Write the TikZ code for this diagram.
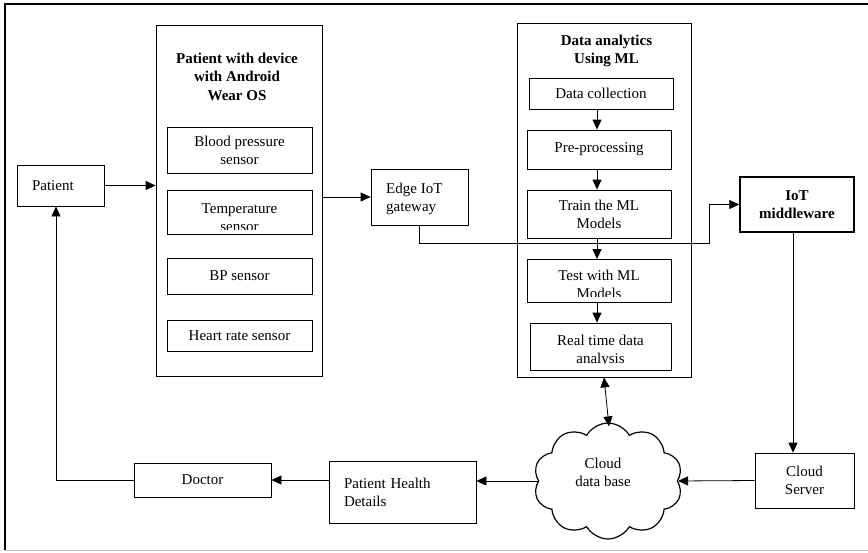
\documentclass[tikz,border=0pt]{standalone}
\usepackage{fontspec}
\setmainfont{Liberation Serif}
\usetikzlibrary{arrows.meta,shapes.symbols}
\begin{document}
\begin{tikzpicture}[x=1pt,y=-1pt,
  every node/.style={font=\fontsize{15}{18}\selectfont, inner sep=0pt},
  box/.style={draw, line width=0.8pt, rectangle},
  titletext/.style={font=\fontsize{15}{18.5}\selectfont\bfseries, align=center},
  arr/.style={line width=0.8pt, -{Triangle[length=10pt,width=9pt]}},
  dblarr/.style={line width=0.8pt, {Triangle[length=10pt,width=9pt]}-{Triangle[length=10pt,width=9pt]}},
  ln/.style={line width=0.8pt}]
\useasboundingbox (0,0) rectangle (868,552);
% outer frame
\draw[line width=2pt] (5,550) -- (5,4) -- (868,4);
\draw[line width=1pt, black!25] (5,550) -- (868,550);

% left part
\node[box, minimum width=87pt, minimum height=41pt, text width=57pt, align=left] (patient) at (60.5,185.5) {Patient};
\node[box, minimum width=166pt, minimum height=351pt] (device) at (239,200.5) {};
\node[titletext] (devtitle) at (237,76.5) {Patient with device\\with Android\\Wear OS};
\node[box, minimum width=145pt, minimum height=46pt, align=center] (bps) at (239.5,150) {Blood pressure\\sensor};
\node[box, minimum width=145pt, minimum height=44pt] (temp) at (239.5,212) {};
\begin{scope}
  \clip ([yshift=4.5pt]temp.south west) rectangle (temp.north east);
  \node[align=center] (temptxt) at (239.5,218) {Temperature\\sensor};
\end{scope}
\node[box, minimum width=145pt, minimum height=36pt] (bp) at (239.5,276) {BP sensor};
\node[box, minimum width=145pt, minimum height=31pt] (hr) at (239.5,335.5) {Heart rate sensor};

\node[box, minimum width=97pt, minimum height=56pt] (edge) at (419.5,197) {};
\node[align=left, anchor=west] (edgetxt) at (386,199) {Edge IoT\\gateway};

% data analytics
\node[box, minimum width=174pt, minimum height=354pt] (da) at (604,200) {};
\node[titletext] (datitle) at (606.5,51) {Data analytics\\Using ML};
\node[box, minimum width=144pt, minimum height=31pt] (dc) at (601,93.5) {Data collection};
\node[box, minimum width=144pt, minimum height=39pt] (pp) at (599,149.5) {Pre-processing};
\node[box, minimum width=144pt, minimum height=48pt, align=center] (train) at (599,214) {Train the ML\\Models};
\node[box, minimum width=144pt, minimum height=43pt] (test) at (599,281) {};
\begin{scope}
  \clip ([yshift=6pt]test.south west) rectangle (test.north east);
  \node[align=center] (testtxt) at (599,284.5) {Test with ML\\Models};
\end{scope}
\node[box, minimum width=141pt, minimum height=47pt] (rt) at (600.5,346.5) {};
\begin{scope}
  \clip ([yshift=6.5pt]rt.south west) rectangle (rt.north east);
  \node[align=center] (rttxt) at (600.5,351) {Real time data\\analysis};
\end{scope}

% right part
\node[box, line width=1.5pt, minimum width=114pt, minimum height=55pt, align=center, font=\fontsize{15}{18}\selectfont\bfseries] (iot) at (797,204.5) {IoT\\middleware};
\node[box, minimum width=99pt, minimum height=55pt, align=center] (cs) at (804.5,480.5) {Cloud\\Server};
\node[cloud, draw, line width=1.2pt, cloud puffs=10, cloud puff arc=120, aspect=1.3, minimum width=149pt, minimum height=116pt] (cloud) at (608,481) {};
\node[align=center] (cloudtxt) at (603,472) {Cloud\\data base};
\node[box, minimum width=147pt, minimum height=62pt, text width=117pt, align=left] (phd) at (402.5,492) {Patient Health\\Details};
\node[box, minimum width=137pt, minimum height=34pt] (doctor) at (202.5,480) {Doctor};

% helper coordinates
\coordinate (k1) at (709,243);
\coordinate (k2) at (793,0);
\coordinate (k3) at (56,480);
\coordinate (k4) at (597,0);

% connectors
\draw[arr] (patient.east) -- (patient.east -| device.west);
\draw[arr] (device.east |- edge.west) -- (edge.west);
\draw[arr] (edge.south) |- (k1) |- (iot.west);
\draw[arr] (iot.south -| k2) -- (cs.north -| k2);
\draw[arr] (cs.west) -- (cloud.east);
\draw[arr] (cloud.west) -- (cloud.west -| phd.east);
\draw[arr] (phd.west |- doctor.east) -- (doctor.east);
\draw[arr] (doctor.west) -- (k3) -- (k3 |- patient.south);
\draw[arr] (dc.south -| k4) -- (pp.north -| k4);
\draw[arr] (pp.south -| k4) -- (train.north -| k4);
\draw[arr] (train.south -| k4) -- (test.north -| k4);
\draw[arr] (test.south -| k4) -- (rt.north -| k4);
\draw[dblarr] (da.south) -- ([xshift=1pt,yshift=-4pt]cloud.north);
\end{tikzpicture}
\end{document}
